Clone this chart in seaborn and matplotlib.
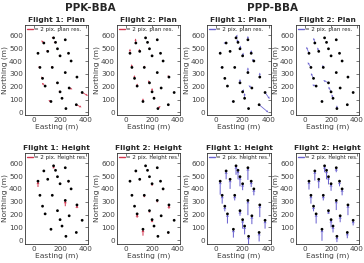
import numpy as np
import pandas as pd
import matplotlib
matplotlib.use("Agg")
import matplotlib.pyplot as plt
import seaborn as sns
from matplotlib.lines import Line2D

sns.set_style("white")
plt.rcParams['font.family'] = ['DejaVu Sans']

# GCP positions (m)
easting = [75, 150, 165, 240, 105, 30, 180, 200, 265, 285, 45, 140,
           240, 330, 65, 180, 85, 270, 200, 370, 215, 130, 325, 245]
northing = [540, 580, 545, 565, 475, 460, 495, 440, 460, 400, 350, 350,
            310, 275, 265, 230, 205, 190, 160, 155, 110, 85, 60, 30]

# plan residual vectors (scaled, m on plot)
ppk_f1_plan_u = [-20, -15, -15, 0, -10, 0, -5, -12, 0, 0, -15, -10, -3, -8, -10, -12, -25, 25, -10, 45, 0, -20, 40, 0]
ppk_f1_plan_v = [20, 5, 0, 0, 10, 0, 5, 0, 0, 0, 5, 10, 3, 3, 15, 3, 25, -10, 10, -25, 0, 10, -20, 0]
ppk_f2_plan_u = [-3, -3, -3, 0, -5, 0, -2, -5, 0, 0, -3, 5, 0, -10, -2, -10, 0, 0, 0, 0, 0, 0, -5, 20]
ppk_f2_plan_v = [35, 8, 8, 0, 20, 35, 10, 8, 0, 0, 25, 15, 0, 15, 25, 20, 20, 0, 30, 0, 15, 25, 5, 20]
ppp_f1_plan_u = [-20, 10, -8, 0, -3, 0, 5, 5, 0, -15, -15, 0, 0, 0, -3, 0, -10, -25, 10, 35, 0, -15, 70, -5]
ppp_f1_plan_v = [0, 25, 25, 30, 3, 15, 25, 25, 25, 15, 0, 0, 40, 35, 3, 30, 0, 20, 20, -50, 40, 0, -60, 8]
ppp_f2_plan_u = [-10, 0, 0, 0, -10, -20, 0, 0, 0, 0, -25, -5, 0, 0, -20, -40, -30, 0, -20, 0, -10, -5, 0, 0]
ppp_f2_plan_v = [40, 0, 0, 0, 30, 50, 0, 0, 0, 0, 40, 20, 0, 10, 40, 20, 10, 0, 40, 0, 30, 8, 0, 25]

# height residuals (arrow length on plot, m)
ppk_f1_height = [8, 20, 5, 0, 5, 45, 3, 5, 10, 3, 3, 3, 45, 25, 3, 3, 3, 3, 3, 0, 0, 0, 3, 0]
ppk_f2_height = [10, 5, 5, 0, 8, 3, 5, 15, 3, 10, 3, 15, 15, 30, 3, 15, 30, 0, 20, 0, 5, 50, 10, 0]
ppp_f1_height = [65, 70, 70, 95, 75, 105, 75, 50, 45, 50, 65, 40, 115, 95, 40, 40, 75, 65, 70, 65, 65, 65, 70, 60]
ppp_f2_height = [75, 50, 70, 35, 70, 65, 60, 55, 40, 50, 65, 40, 75, 80, 40, 25, 75, 50, 60, 40, 50, 90, 45, 45]

RED = '#d2344e'
BLUE = '#6a62d0'
TXT = '#404040'

W, H = 364, 263
fig = plt.figure(figsize=(W / 100, H / 100), dpi=100)

cols_px = [(25, 88), (117, 180), (207, 271), (296, 359)]
rows_px = [(25, 115), (153, 244)]

df = pd.DataFrame({'E': easting, 'N': northing})

panels = [
    (0, 0, 'Flight 1: Plan', RED, 'plan', (ppk_f1_plan_u, ppk_f1_plan_v)),
    (0, 1, 'Flight 2: Plan', RED, 'plan', (ppk_f2_plan_u, ppk_f2_plan_v)),
    (0, 2, 'Flight 1: Plan', BLUE, 'plan', (ppp_f1_plan_u, ppp_f1_plan_v)),
    (0, 3, 'Flight 2: Plan', BLUE, 'plan', (ppp_f2_plan_u, ppp_f2_plan_v)),
    (1, 0, 'Flight 1: Height', RED, 'height', ppk_f1_height),
    (1, 1, 'Flight 2: Height', RED, 'height', ppk_f2_height),
    (1, 2, 'Flight 1: Height', BLUE, 'height', ppp_f1_height),
    (1, 3, 'Flight 2: Height', BLUE, 'height', ppp_f2_height),
]

for r, c, title, color, kind, data in panels:
    x0, x1 = cols_px[c]
    y0, y1 = rows_px[r]
    ax = fig.add_axes([x0 / W, 1 - y1 / H, (x1 - x0) / W, (y1 - y0) / H])
    if kind == 'plan':
        u, v = data
        ax.quiver(easting, northing, u, v, angles='xy', scale_units='xy', scale=1,
                  color=color, width=0.012, headwidth=3, headlength=3,
                  headaxislength=2.6, minshaft=1, minlength=0.1, zorder=2)
        leg = '= 2 pix. plan res.'
        ax.set_ylim(-20, 680)
    else:
        L = np.array(data, dtype=float)
        ax.quiver(easting, northing, np.zeros_like(L), L, angles='xy', scale_units='xy',
                  scale=1, pivot='tip', color=color, width=0.016, headwidth=3,
                  headlength=3, headaxislength=2.6, minshaft=1, minlength=0.1, zorder=2)
        leg = '= 2 pix. height res.'
        ax.set_ylim(-30, 680)
    sns.scatterplot(data=df, x='E', y='N', ax=ax, color='black', s=4,
                    edgecolor='none', zorder=3, legend=False)
    ax.set_xlim(-70, 415)
    ax.set_xticks([0, 200, 400])
    ax.set_yticks([0, 100, 200, 300, 400, 500, 600])
    ax.tick_params(axis='both', labelsize=5.2, colors=TXT, direction='in',
                   length=2, width=0.5, pad=1.5, top=True, right=True,
                   labeltop=False, labelright=False)
    for s in ax.spines.values():
        s.set_linewidth(0.6)
        s.set_color('#333333')
    ax.set_title(title, fontsize=5.4, fontweight='bold', pad=2)
    ax.set_xlabel('Easting (m)', fontsize=5.4, color=TXT, labelpad=0.5)
    ax.set_ylabel('Northing (m)', fontsize=5.4, color=TXT, labelpad=0.5)
    h = Line2D([0], [0], color=color, lw=1.0)
    ax.legend([h], [leg], loc='upper left', fontsize=4.0, frameon=False,
              handlelength=1.2, handletextpad=0.2, borderaxespad=0.1,
              borderpad=0.2)

fig.text(90 / W, 1 - 8 / H, 'PPK-BBA', ha='center', va='center',
         fontsize=7.5, fontweight='bold')
fig.text(272 / W, 1 - 8 / H, 'PPP-BBA', ha='center', va='center',
         fontsize=7.5, fontweight='bold')

fig.savefig('out.png', dpi=100)
